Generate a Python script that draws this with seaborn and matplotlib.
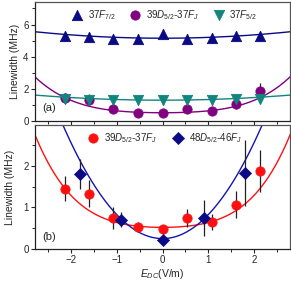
import numpy as np
import matplotlib
matplotlib.use("Agg")
import matplotlib.pyplot as plt
import seaborn as sb

# field values (V/m)
e_field = [-2.13, -1.6, -1.07, -0.53, 0.0, 0.53, 1.07, 1.6, 2.13]
e_field_48 = [-1.8, -0.9, 0.0, 0.9, 1.8]

# panel (a)
f72_width = [5.3, 5.25, 5.1, 5.1, 5.4, 5.1, 5.15, 5.3, 5.3]
f72_err = [0.3, 0.3, 0.3, 0.3, 0.3, 0.3, 0.3, 0.3, 0.3]
f52_width = [1.4, 1.3, 1.3, 1.3, 1.3, 1.3, 1.3, 1.35, 1.4]
f52_err = [0.3, 0.3, 0.3, 0.3, 0.3, 0.3, 0.3, 0.3, 0.3]

# 39D5/2-37FJ, shown in both panels
d39_width = [1.45, 1.33, 0.75, 0.53, 0.48, 0.75, 0.65, 1.07, 1.88]
d39_err = [0.3, 0.33, 0.26, 0.13, 0.1, 0.22, 0.2, 0.32, 0.5]

# panel (b)
d48_width = [1.8, 0.7, 0.22, 0.75, 1.83]
d48_err = [0.36, 0.18, 0.05, 0.44, 0.8]

# fit coefficients (c0, c2, c4) for y = c0 + c2*E^2 + c4*E^4
fit_f72 = [5.15, 0.052, 0.0]
fit_f52 = [1.3, 0.041, 0.0]
fit_d39 = [0.52, 0.093, 0.0253]
fit_d48 = [0.25, 0.58, 0.0]

navy = "#0a0a85"
purple = "#800080"
teal = "#12857f"
red = "#ff1010"
blue = "#1414b4"

sb.set_style("ticks")
plt.rcParams["font.family"] = ["Liberation Sans", "DejaVu Sans"]
plt.rcParams["mathtext.fontset"] = "custom"
plt.rcParams["mathtext.rm"] = "Liberation Sans"
plt.rcParams["mathtext.it"] = "Liberation Sans:italic"
plt.rcParams["font.size"] = 7

xgrid = np.linspace(-2.8, 2.8, 300)


def curve(c):
    return c[0] + c[1] * xgrid**2 + c[2] * xgrid**4


fig = plt.figure(figsize=(2.91, 2.87), dpi=100)
ax1 = fig.add_axes([0.12, 0.578, 0.877, 0.415])
ax2 = fig.add_axes([0.12, 0.1324, 0.877, 0.4316])

# ---- (a)
sb.lineplot(x=xgrid, y=curve(fit_f72), color=navy, lw=1, ax=ax1)
sb.lineplot(x=xgrid, y=curve(fit_d39), color=purple, lw=1, ax=ax1)
sb.lineplot(x=xgrid, y=curve(fit_f52), color=teal, lw=1, ax=ax1)
for y, err in [(f72_width, f72_err), (d39_width, d39_err), (f52_width, f52_err)]:
    ax1.errorbar(e_field, y, yerr=err, fmt="none", ecolor="#222222", elinewidth=0.9, capsize=0)
sb.scatterplot(x=e_field, y=f72_width, marker="^", s=55, color=navy, edgecolor=navy,
               label=r"$\mathit{37F_{7/2}}$", ax=ax1, zorder=5)
sb.scatterplot(x=e_field, y=d39_width, marker="o", s=45, color=purple, edgecolor=purple,
               label=r"$\mathit{39D_{5/2}}$-$\mathit{37F_J}$", ax=ax1, zorder=5)
sb.scatterplot(x=e_field, y=f52_width, marker="v", s=55, color=teal, edgecolor=teal,
               label=r"$\mathit{37F_{5/2}}$", ax=ax1, zorder=6)
ax1.legend(loc="upper center", ncol=3, frameon=False, handletextpad=0.1,
           columnspacing=1.0, borderaxespad=0.2, prop={"style": "italic", "size": 7})
ax1.set_xlim(-2.78, 2.78)
ax1.set_ylim(0, 7.4)
ax1.set_yticks([0, 2, 4, 6])
ax1.set_yticks([1, 3, 5, 7], minor=True)
ax1.set_xticks([-2, -1, 0, 1, 2])
ax1.set_xticks([-2.5, -1.5, -0.5, 0.5, 1.5, 2.5], minor=True)
ax1.set_xticklabels([])
ax1.set_ylabel("Linewidth (MHz)", fontsize=7.5, labelpad=2)
ax1.text(0.03, 0.11, "(a)", transform=ax1.transAxes, fontsize=8, va="center")

# ---- (b)
sb.lineplot(x=xgrid, y=curve(fit_d39), color=red, lw=1, ax=ax2)
sb.lineplot(x=xgrid, y=curve(fit_d48), color=blue, lw=1, ax=ax2)
ax2.errorbar(e_field, d39_width, yerr=d39_err, fmt="none", ecolor="#222222", elinewidth=0.9, capsize=0)
ax2.errorbar(e_field_48, d48_width, yerr=d48_err, fmt="none", ecolor="#222222", elinewidth=0.9, capsize=0)
sb.scatterplot(x=e_field, y=d39_width, marker="o", s=45, color=red, edgecolor=red,
               label=r"$\mathit{39D_{5/2}}$-$\mathit{37F_J}$", ax=ax2, zorder=5)
sb.scatterplot(x=e_field_48, y=d48_width, marker="D", s=38, color=navy, edgecolor=navy,
               label=r"$\mathit{48D_{5/2}}$-$\mathit{46F_J}$", ax=ax2, zorder=5)
ax2.legend(loc="upper center", ncol=2, frameon=False, handletextpad=0.1,
           columnspacing=1.2, borderaxespad=0.2, prop={"style": "italic", "size": 7})
ax2.set_xlim(-2.78, 2.78)
ax2.set_ylim(0, 2.98)
ax2.set_yticks([0, 1, 2])
ax2.set_yticks([0.5, 1.5, 2.5], minor=True)
ax2.set_xticks([-2, -1, 0, 1, 2])
ax2.set_xticks([-2.5, -1.5, -0.5, 0.5, 1.5, 2.5], minor=True)
ax2.set_ylabel("Linewidth (MHz)", fontsize=7.5, labelpad=6)
ax2.set_xlabel(r"$\mathit{E_{DC}}$(V/m)", fontsize=7.5, labelpad=1)
ax2.text(0.03, 0.1, "(b)", transform=ax2.transAxes, fontsize=8, va="center")

for ax in (ax1, ax2):
    for s in ax.spines.values():
        s.set_visible(True)
        s.set_color("#555555")
        s.set_linewidth(0.9)
    ax.spines["left"].set_color("#222222")
    ax.spines["bottom"].set_color("#222222")
    ax.tick_params(which="major", length=3, width=0.8, pad=1.5, labelsize=7, direction="out")
    ax.tick_params(which="minor", length=2, width=0.7, direction="out")

fig.savefig("out.png", dpi=100)
